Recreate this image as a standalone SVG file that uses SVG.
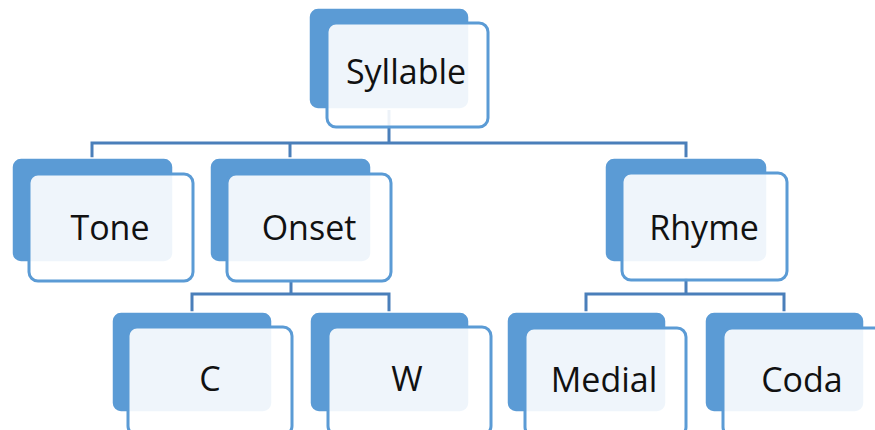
<svg xmlns="http://www.w3.org/2000/svg" width="875" height="430" viewBox="0 0 875 430">
<style>
.back{fill:#5b9bd5;stroke:#ffffff;stroke-width:1.5}
.front{fill:#ffffff;fill-opacity:0.9;stroke:#5b9bd5;stroke-width:3}
.lbl{font-family:"Open Sans","Liberation Sans",sans-serif;font-size:34px;fill:#111;text-anchor:middle}
.conn{fill:none;stroke:#4a7fba;stroke-width:3}
</style>
<rect width="875" height="430" fill="#ffffff"/>
<g id="connectors">
<path class="conn" d="M389,110 V143 M92,158 V143 H686 V158 M290,143 V158"/>
<path class="conn" d="M291,280 V294 M192,312 V294 H389 V312"/>
<path class="conn" d="M686,278 V294 M586,312 V294 H784 V312"/>
</g>
<g id="syllable">
<rect class="back" x="309" y="8" width="160" height="101" rx="9"/>
<rect class="front" x="327" y="23" width="161" height="104" rx="9"/>
<text class="lbl" x="406" y="84">Syllable</text>
</g>
<g id="tone">
<rect class="back" x="12" y="158" width="161" height="104" rx="9"/>
<rect class="front" x="29" y="174" width="164" height="107" rx="9"/>
<text class="lbl" x="110" y="240">Tone</text>
</g>
<g id="onset">
<rect class="back" x="210" y="158" width="161" height="104" rx="9"/>
<rect class="front" x="227" y="174" width="164" height="107" rx="9"/>
<text class="lbl" x="309" y="240">Onset</text>
</g>
<g id="rhyme">
<rect class="back" x="605" y="158" width="162" height="104" rx="9"/>
<rect class="front" x="622" y="173" width="165" height="107" rx="9"/>
<text class="lbl" x="704" y="240">Rhyme</text>
</g>
<g id="c">
<rect class="back" x="112" y="312" width="160" height="100" rx="9"/>
<rect class="front" x="128" y="327" width="164" height="108" rx="9"/>
<text class="lbl" x="210" y="391">C</text>
</g>
<g id="w">
<rect class="back" x="310" y="312" width="159" height="100" rx="9"/>
<rect class="front" x="328" y="327" width="163" height="108" rx="9"/>
<text class="lbl" x="407" y="391">W</text>
</g>
<g id="medial">
<rect class="back" x="507" y="312" width="159" height="100" rx="9"/>
<rect class="front" x="525" y="328" width="161" height="108" rx="9"/>
<text class="lbl" x="604" y="392">Medial</text>
</g>
<g id="coda">
<rect class="back" x="705" y="312" width="159" height="100" rx="9"/>
<rect class="front" x="723" y="328" width="161" height="108" rx="9"/>
<text class="lbl" x="802" y="392">Coda</text>
</g>
</svg>
